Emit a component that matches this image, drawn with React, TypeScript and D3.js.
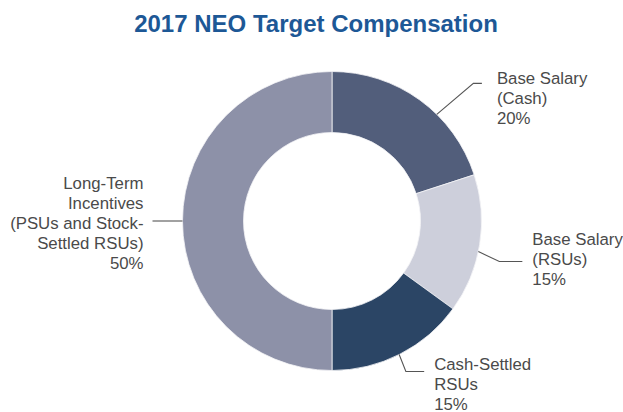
import React from "react";
import * as d3 from "d3";

const categories = [
  "Base Salary (Cash)",
  "Base Salary (RSUs)",
  "Cash-Settled RSUs",
  "Long-Term Incentives (PSUs and Stock-Settled RSUs)",
];
const values = [20, 15, 15, 50];
const colors = ["#525e7b", "#cdcfdb", "#2b4565", "#8d91a8"];
const labelLines = [
  ["Base Salary", "(Cash)"],
  ["Base Salary", "(RSUs)"],
  ["Cash-Settled", "RSUs"],
  ["Long-Term", "Incentives", "(PSUs and Stock-", "Settled RSUs)"],
];
const title = "2017 NEO Target Compensation";

const W = 623;
const H = 412;
const cx = 332;
const cy = 221;
const outerR = 149.5;
const innerR = 88.5;

// leader line layout: anchor angle (deg clockwise from top), elbow offset, horizontal run, text gap, text dy
const leaders = [
  { angle: 44.5, ex: 36.6, ey: -31, run: 8.5, gap: 15, dy: 1, anchor: "start" },
  { angle: 101.8, ex: 21, ey: 10, run: 23, gap: 10, dy: -16.5, anchor: "start" },
  { angle: 153.3, ex: 6.7, ey: 17, run: 18.3, gap: 10, dy: -1.6, anchor: "start" },
  { angle: 270, ex: 0, ey: 0, run: -30, gap: 9, dy: -32.4, anchor: "end" },
];

export default function App() {
  const pie = d3
    .pie<number>()
    .sort(null)
    .value((d) => d)(values);
  const arc = d3
    .arc<d3.PieArcDatum<number>>()
    .innerRadius(innerR)
    .outerRadius(outerR);
  const lineGen = d3.line();
  const lh = 20;

  return (
    <svg
      width={W}
      height={H}
      style={{ position: "absolute", left: 0, top: 0, background: "#fff" }}
      fontFamily="'Liberation Sans', Arial, sans-serif"
    >
      <text
        x={316}
        y={32}
        textAnchor="middle"
        fontSize={24}
        fontWeight="bold"
        fill="#1d5896"
      >
        {title}
      </text>
      <g transform={`translate(${cx},${cy})`}>
        {pie.map((p, i) => (
          <path
            key={categories[i]}
            d={arc(p) || ""}
            fill={colors[i]}
            stroke="#f4f4f6"
            strokeWidth={0.8}
          />
        ))}
      </g>
      {leaders.map((L, i) => {
        const a = (L.angle * Math.PI) / 180;
        const sx = cx + outerR * Math.sin(a);
        const sy = cy - outerR * Math.cos(a);
        const elx = sx + L.ex;
        const ely = sy + L.ey;
        const endx = elx + L.run;
        const pts: [number, number][] = [
          [sx, sy],
          [elx, ely],
          [endx, ely],
        ];
        const tx = L.anchor === "end" ? endx - L.gap : endx + L.gap;
        const lines = [...labelLines[i], `${values[i]}%`];
        return (
          <g key={categories[i]}>
            <path d={lineGen(pts) || ""} fill="none" stroke="#555" strokeWidth={1.1} />
            <text
              x={tx}
              y={ely + L.dy}
              textAnchor={L.anchor}
              fontSize={16.8}
              fill="#4a4a4a"
            >
              {lines.map((t, j) => (
                <tspan key={j} x={tx} dy={j === 0 ? 0 : lh}>
                  {t}
                </tspan>
              ))}
            </text>
          </g>
        );
      })}
    </svg>
  );
}
